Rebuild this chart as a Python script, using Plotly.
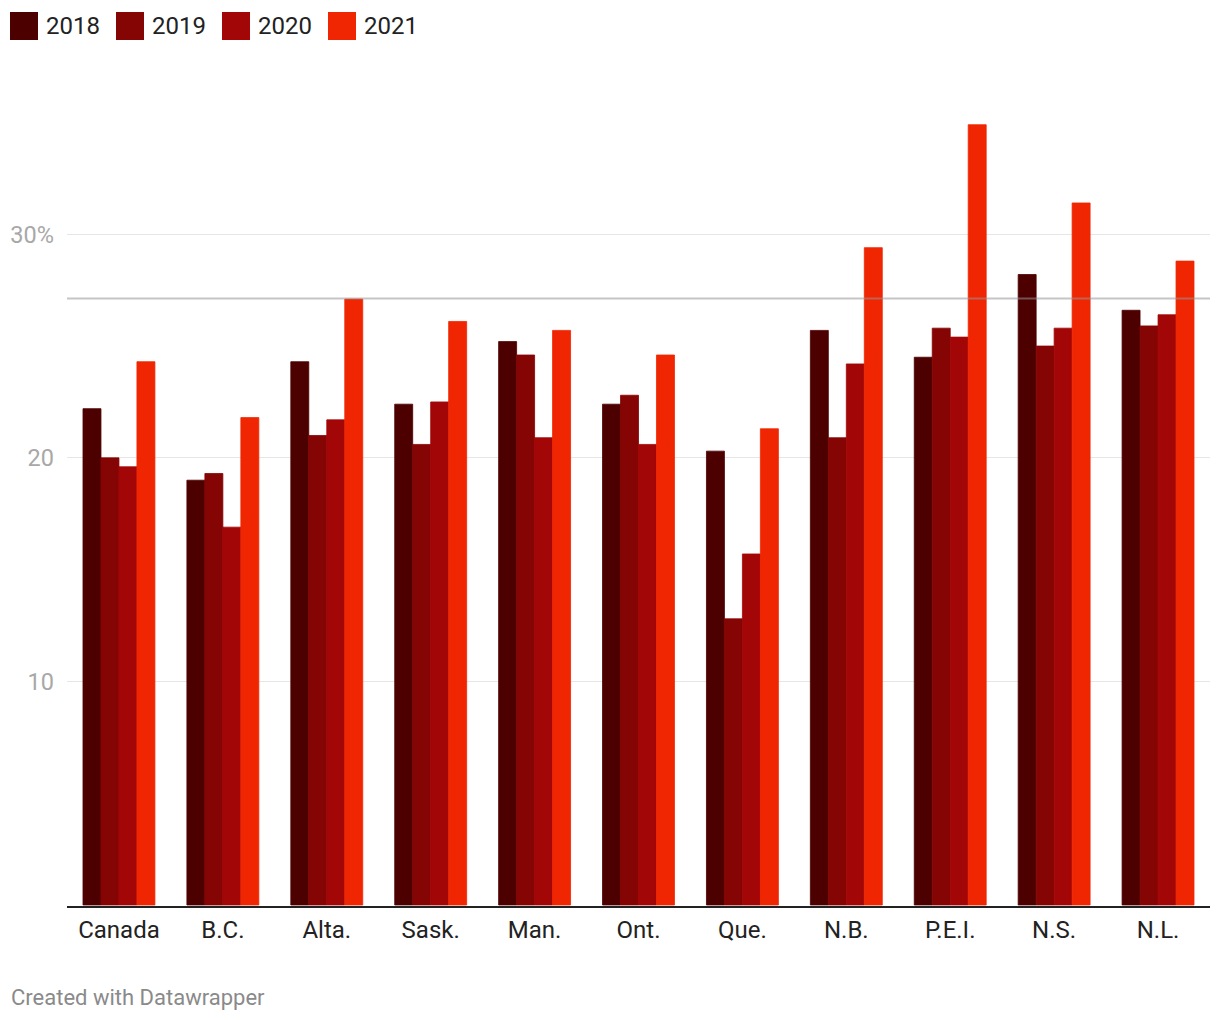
import plotly.graph_objects as go

categories = ["Canada", "B.C.", "Alta.", "Sask.", "Man.", "Ont.", "Que.", "N.B.", "P.E.I.", "N.S.", "N.L."]
years = ["2018", "2019", "2020", "2021"]
v2018 = [22.2, 19.0, 24.3, 22.4, 25.2, 22.4, 20.3, 25.7, 24.5, 28.2, 26.6]
v2019 = [20.0, 19.3, 21.0, 20.6, 24.6, 22.8, 12.8, 20.9, 25.8, 25.0, 25.9]
v2020 = [19.6, 16.9, 21.7, 22.5, 20.9, 20.6, 15.7, 24.2, 25.4, 25.8, 26.4]
v2021 = [24.3, 21.8, 27.1, 26.1, 25.7, 24.6, 21.3, 29.4, 34.9, 31.4, 28.8]
reference_line = 27.13
tick_vals = [10, 20, 30]
tick_text = ["10", "20", "30%"]
colors = ["#4d0000", "#850404", "#a30606", "#f02603"]

series = [v2018, v2019, v2020, v2021]

# page body has an 8px margin; figure sized to fit the 1220x1020 window
OFF = 8
W, H = 1220 - 2 * OFF, 1020 - 2 * OFF
L = 67 - OFF
R = W - (1210 - OFF)
T = 80 - OFF
B = H - (905.7 - OFF)
FONT = "Roboto, 'Noto Sans', sans-serif"

fig = go.Figure()
for name, vals, col in zip(years, series, colors):
    fig.add_trace(go.Bar(x=categories, y=vals, name=name,
                         marker=dict(color=col, line=dict(color=col, width=0.8)),
                         showlegend=False, hoverinfo="x+y+name"))

# reference line drawn over the bars
fig.add_shape(type="line", xref="paper", yref="y", x0=0, x1=1, y0=reference_line, y1=reference_line,
              line=dict(color="rgba(150,150,150,0.55)", width=2), layer="above")

pw = W - L - R
ph = H - T - B
def px_x(p):
    return (p - OFF - L) / pw
def px_y(p):
    return 1 - (p - OFF - T) / ph

# custom legend (square swatches + labels)
leg_x = 10
for name, col in zip(years, colors):
    fig.add_shape(type="rect", xref="paper", yref="paper",
                  x0=px_x(leg_x), x1=px_x(leg_x + 28), y0=px_y(12), y1=px_y(40),
                  fillcolor=col, line=dict(width=0))
    fig.add_annotation(xref="paper", yref="paper", x=px_x(leg_x + 34), y=px_y(26), text=name,
                       showarrow=False, xanchor="left", yanchor="middle",
                       font=dict(family=FONT, size=24, color="#222222"))
    leg_x += 106

fig.add_annotation(xref="paper", yref="paper", x=px_x(9), y=px_y(997), text="Created with Datawrapper",
                   showarrow=False, xanchor="left", yanchor="middle",
                   font=dict(family=FONT, size=22, color="#8a8a8a"))

fig.update_layout(
    width=W, height=H,
    margin=dict(l=L, r=R, t=T, b=B, pad=0),
    paper_bgcolor="white", plot_bgcolor="white",
    barmode="group", bargap=0.3077, bargroupgap=0,
    font=dict(family=FONT),
    xaxis=dict(showline=True, linecolor="#222222", linewidth=2, showgrid=False, ticks="",
               tickfont=dict(family=FONT, size=24, color="#222222"), ticklabelstandoff=1,
               fixedrange=True),
    yaxis=dict(range=[-0.045, 36.9], tickvals=tick_vals, ticktext=tick_text, showgrid=True,
               gridcolor="#e6e6e6", gridwidth=1, zeroline=False, showline=False, ticks="",
               tickfont=dict(family=FONT, size=23.5, color="#a8a8a8"), ticklabelstandoff=12,
               fixedrange=True),
)

fig.write_html("out.html")
